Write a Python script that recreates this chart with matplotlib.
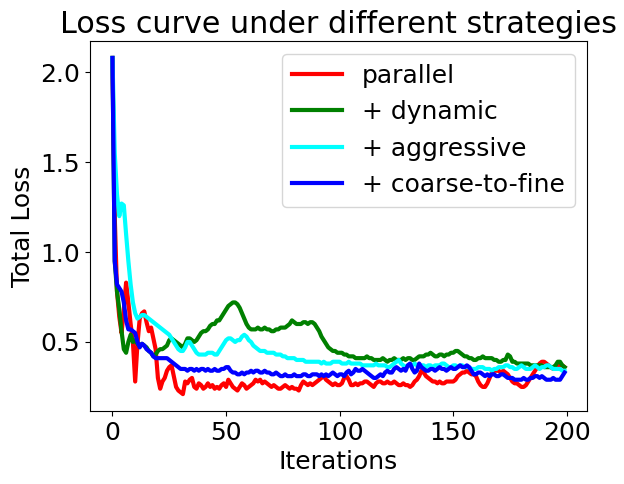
import numpy as np
import matplotlib
matplotlib.use("Agg")
import matplotlib.pyplot as plt

iterations = np.arange(200)

parallel = [
    2.08, 1.20, 0.78, 0.64, 0.55, 0.68, 0.83, 0.72, 0.60, 0.50,
    0.28, 0.49, 0.63, 0.66, 0.67, 0.61, 0.56, 0.58, 0.52, 0.46,
    0.30, 0.24, 0.28, 0.30, 0.34, 0.36, 0.37, 0.31, 0.25, 0.23,
    0.22, 0.21, 0.28, 0.27, 0.29, 0.30, 0.25, 0.24, 0.27, 0.26,
    0.24, 0.25, 0.27, 0.25, 0.26, 0.24, 0.25, 0.24, 0.26, 0.27,
    0.25, 0.29, 0.27, 0.25, 0.24, 0.23, 0.25, 0.27, 0.26, 0.24,
    0.25, 0.26, 0.27, 0.29, 0.28, 0.29, 0.27, 0.28, 0.27, 0.26,
    0.25, 0.26, 0.25, 0.24, 0.24, 0.25, 0.26, 0.25, 0.24, 0.25,
    0.24, 0.24, 0.23, 0.26, 0.28, 0.27, 0.26, 0.27, 0.26, 0.27,
    0.28, 0.29, 0.30, 0.31, 0.29, 0.28, 0.27, 0.26, 0.27, 0.26,
    0.26, 0.27, 0.30, 0.31, 0.29, 0.26, 0.26, 0.27, 0.26, 0.27,
    0.27, 0.28, 0.28, 0.27, 0.26, 0.25, 0.27, 0.28, 0.28, 0.27,
    0.27, 0.28, 0.27, 0.27, 0.28, 0.27, 0.26, 0.26, 0.27, 0.26,
    0.26, 0.25, 0.26, 0.28, 0.29, 0.31, 0.34, 0.33, 0.31, 0.30,
    0.29, 0.28, 0.28, 0.27, 0.28, 0.27, 0.27, 0.28, 0.28, 0.28,
    0.28, 0.29, 0.31, 0.32, 0.33, 0.33, 0.34, 0.33, 0.32, 0.32,
    0.31, 0.28, 0.26, 0.25, 0.25, 0.27, 0.30, 0.33, 0.34, 0.34,
    0.34, 0.33, 0.34, 0.33, 0.32, 0.30, 0.28, 0.27, 0.27, 0.26,
    0.25, 0.25, 0.26, 0.28, 0.30, 0.32, 0.34, 0.36, 0.38, 0.39,
    0.39, 0.38, 0.37, 0.36, 0.35, 0.36, 0.38, 0.37, 0.37, 0.36,
]

dynamic = [
    2.08, 0.95, 0.78, 0.68, 0.56, 0.46, 0.44, 0.50, 0.54, 0.50,
    0.51, 0.49, 0.48, 0.49, 0.48, 0.47, 0.45, 0.44, 0.42, 0.43,
    0.45, 0.46, 0.46, 0.47, 0.48, 0.51, 0.52, 0.51, 0.50, 0.49,
    0.48, 0.47, 0.49, 0.52, 0.52, 0.51, 0.50, 0.51, 0.53, 0.55,
    0.56, 0.56, 0.57, 0.59, 0.60, 0.60, 0.62, 0.62, 0.64, 0.66,
    0.68, 0.70, 0.71, 0.72, 0.72, 0.71, 0.69, 0.66, 0.63, 0.60,
    0.58, 0.57, 0.57, 0.57, 0.58, 0.57, 0.57, 0.58, 0.57, 0.57,
    0.56, 0.56, 0.57, 0.57, 0.58, 0.58, 0.58, 0.59, 0.60, 0.62,
    0.61, 0.60, 0.60, 0.60, 0.61, 0.61, 0.60, 0.61, 0.61, 0.60,
    0.58, 0.56, 0.53, 0.51, 0.49, 0.47, 0.46, 0.45, 0.45, 0.44,
    0.44, 0.44, 0.43, 0.43, 0.42, 0.42, 0.42, 0.41, 0.41, 0.41,
    0.41, 0.41, 0.42, 0.41, 0.41, 0.40, 0.40, 0.40, 0.40, 0.41,
    0.40, 0.39, 0.40, 0.40, 0.41, 0.40, 0.40, 0.40, 0.41, 0.40,
    0.41, 0.41, 0.40, 0.40, 0.41, 0.42, 0.42, 0.42, 0.43, 0.43,
    0.44, 0.43, 0.42, 0.42, 0.43, 0.43, 0.42, 0.43, 0.43, 0.44,
    0.44, 0.45, 0.45, 0.44, 0.43, 0.42, 0.42, 0.41, 0.41, 0.40,
    0.40, 0.41, 0.41, 0.42, 0.41, 0.41, 0.41, 0.41, 0.40, 0.40,
    0.39, 0.39, 0.40, 0.40, 0.43, 0.42, 0.39, 0.39, 0.38, 0.38,
    0.38, 0.38, 0.38, 0.38, 0.37, 0.37, 0.37, 0.37, 0.37, 0.37,
    0.36, 0.36, 0.36, 0.36, 0.36, 0.37, 0.39, 0.39, 0.37, 0.36,
]

aggressive = [
    2.08, 1.55, 1.32, 1.20, 1.27, 1.26, 1.10, 0.95, 0.82, 0.72,
    0.66, 0.63, 0.64, 0.65, 0.65, 0.64, 0.63, 0.62, 0.61, 0.60,
    0.59, 0.58, 0.57, 0.56, 0.55, 0.54, 0.52, 0.50, 0.48, 0.46,
    0.45, 0.45, 0.47, 0.50, 0.50, 0.48, 0.46, 0.44, 0.43, 0.43,
    0.43, 0.43, 0.44, 0.44, 0.44, 0.43, 0.43, 0.45, 0.47, 0.49,
    0.51, 0.52, 0.52, 0.51, 0.50, 0.51, 0.51, 0.53, 0.54, 0.53,
    0.51, 0.50, 0.48, 0.47, 0.46, 0.45, 0.45, 0.45, 0.44, 0.44,
    0.44, 0.44, 0.43, 0.43, 0.43, 0.42, 0.42, 0.41, 0.41, 0.41,
    0.41, 0.40, 0.40, 0.40, 0.40, 0.39, 0.39, 0.39, 0.39, 0.39,
    0.39, 0.39, 0.38, 0.39, 0.38, 0.38, 0.38, 0.39, 0.39, 0.39,
    0.39, 0.38, 0.38, 0.38, 0.39, 0.38, 0.38, 0.38, 0.38, 0.38,
    0.37, 0.37, 0.37, 0.37, 0.37, 0.37, 0.38, 0.37, 0.37, 0.37,
    0.37, 0.36, 0.36, 0.37, 0.38, 0.39, 0.40, 0.38, 0.37, 0.36,
    0.37, 0.37, 0.37, 0.38, 0.37, 0.36, 0.37, 0.37, 0.36, 0.37,
    0.37, 0.36, 0.37, 0.37, 0.37, 0.38, 0.38, 0.37, 0.36, 0.36,
    0.37, 0.37, 0.36, 0.37, 0.37, 0.36, 0.36, 0.36, 0.35, 0.35,
    0.35, 0.36, 0.36, 0.36, 0.35, 0.35, 0.35, 0.34, 0.35, 0.35,
    0.36, 0.36, 0.36, 0.37, 0.37, 0.36, 0.36, 0.35, 0.35, 0.36,
    0.37, 0.36, 0.35, 0.35, 0.35, 0.36, 0.37, 0.36, 0.35, 0.36,
    0.36, 0.37, 0.37, 0.36, 0.35, 0.35, 0.35, 0.35, 0.34, 0.34,
]

coarse_to_fine = [
    2.08, 0.95, 0.82, 0.80, 0.78, 0.72, 0.62, 0.57, 0.57, 0.56,
    0.55, 0.50, 0.47, 0.49, 0.48, 0.46, 0.45, 0.44, 0.42, 0.41,
    0.41, 0.41, 0.41, 0.41, 0.41, 0.40, 0.39, 0.38, 0.37, 0.36,
    0.35, 0.35, 0.35, 0.34, 0.35, 0.35, 0.34, 0.35, 0.34, 0.35,
    0.35, 0.34, 0.35, 0.34, 0.34, 0.35, 0.34, 0.34, 0.35, 0.35,
    0.36, 0.36, 0.34, 0.33, 0.33, 0.32, 0.32, 0.33, 0.32, 0.33,
    0.33, 0.34, 0.33, 0.34, 0.34, 0.33, 0.33, 0.34, 0.33, 0.33,
    0.32, 0.32, 0.33, 0.32, 0.31, 0.31, 0.32, 0.31, 0.31, 0.31,
    0.32, 0.31, 0.31, 0.31, 0.32, 0.32, 0.31, 0.31, 0.32, 0.32,
    0.32, 0.31, 0.32, 0.31, 0.32, 0.31, 0.32, 0.33, 0.32, 0.31,
    0.32, 0.32, 0.31, 0.33, 0.34, 0.32, 0.33, 0.35, 0.34, 0.34,
    0.35, 0.34, 0.33, 0.32, 0.31, 0.30, 0.30, 0.31, 0.32, 0.31,
    0.33, 0.34, 0.33, 0.33, 0.35, 0.36, 0.35, 0.34, 0.35, 0.34,
    0.37, 0.38, 0.35, 0.33, 0.34, 0.38, 0.36, 0.35, 0.34, 0.34,
    0.35, 0.35, 0.34, 0.35, 0.36, 0.35, 0.35, 0.34, 0.35, 0.36,
    0.35, 0.35, 0.36, 0.37, 0.36, 0.36, 0.37, 0.36, 0.34, 0.32,
    0.32, 0.33, 0.33, 0.32, 0.31, 0.32, 0.31, 0.32, 0.32, 0.31,
    0.31, 0.32, 0.32, 0.31, 0.30, 0.30, 0.30, 0.29, 0.29, 0.29,
    0.29, 0.30, 0.29, 0.29, 0.30, 0.30, 0.31, 0.31, 0.30, 0.31,
    0.30, 0.29, 0.29, 0.29, 0.30, 0.29, 0.29, 0.29, 0.31, 0.33,
]

plt.rcParams['font.size'] = 18

fig = plt.figure(figsize=(6.24, 4.84), dpi=100)
ax = fig.add_axes([0.144, 0.151, 0.797, 0.764])

ax.plot(iterations, parallel, color="red", linewidth=3, label="parallel")
ax.plot(iterations, dynamic, color="green", linewidth=3, label="+ dynamic")
ax.plot(iterations, aggressive, color="cyan", linewidth=3, label="+ aggressive")
ax.plot(iterations, coarse_to_fine, color="blue", linewidth=3, label="+ coarse-to-fine")

ax.set_title("Loss curve under different strategies", fontsize=21.7)
ax.set_xlabel("Iterations")
ax.set_ylabel("Total Loss")
ax.set_yticks([0.5, 1.0, 1.5, 2.0])
ax.legend(loc="upper right")

fig.savefig("out.png", dpi=100)
